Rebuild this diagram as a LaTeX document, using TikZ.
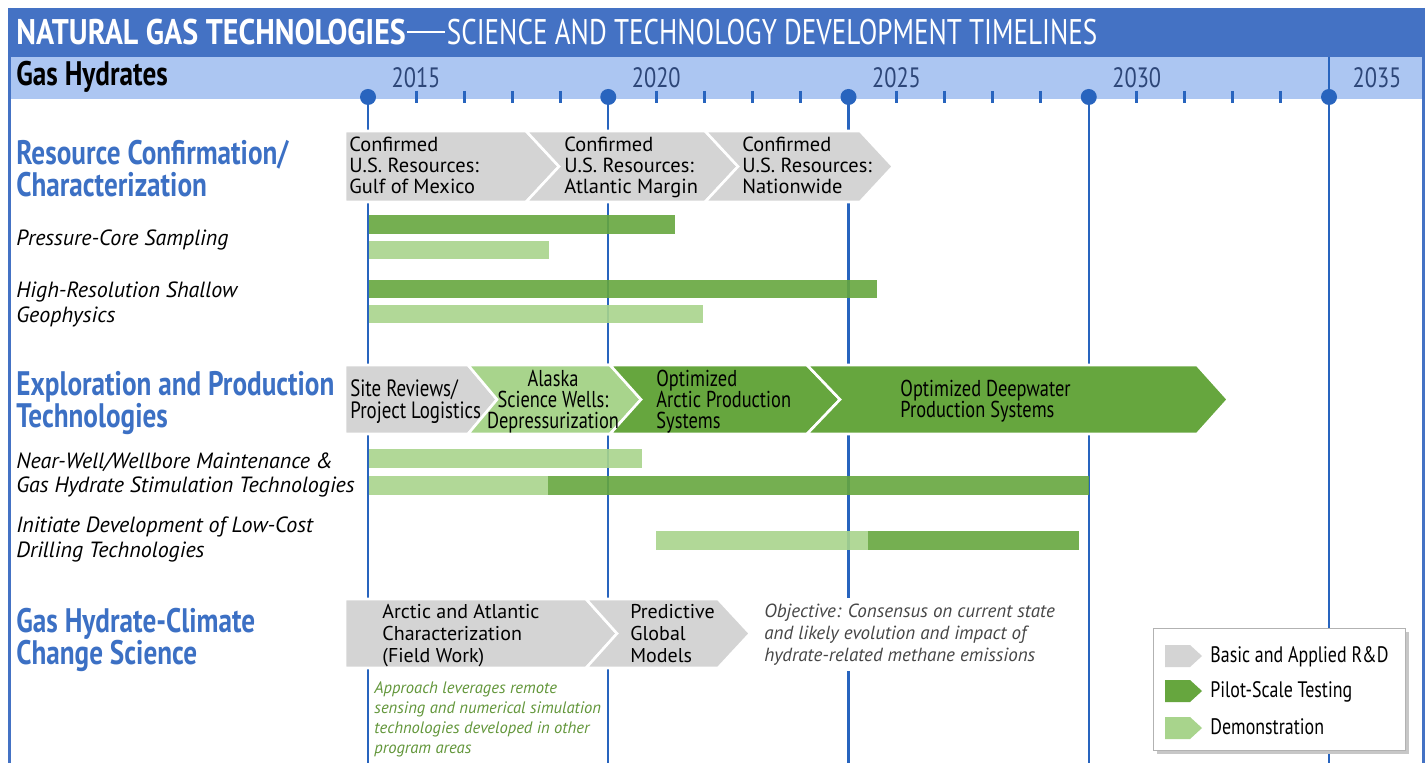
\documentclass[tikz,border=0pt]{standalone}
\usepackage{fontspec}
\setmainfont{PT Sans}
\newfontfamily\condfont[FakeStretch=0.8]{PT Sans}
\newfontfamily\titlefont[FakeStretch=0.763, BoldFeatures={FakeStretch=0.843}]{PT Sans}
\usepackage{tikz}

\definecolor{titleblue}{RGB}{68,114,196}
\definecolor{bandblue}{RGB}{172,198,242}
\definecolor{lineblue}{RGB}{40,100,190}
\definecolor{headblue}{RGB}{60,112,196}
\definecolor{yearblue}{RGB}{45,70,120}
\definecolor{chevgray}{RGB}{212,212,212}
\definecolor{pilotgreen}{RGB}{102,166,62}
\definecolor{demogreen}{RGB}{168,212,140}
\definecolor{notegreen}{RGB}{98,150,58}
\definecolor{notegray}{RGB}{70,70,70}

% multi-line nodes: base anchor sits on the last line
\tikzset{
  heading/.style={anchor=base west, inner sep=0pt, align=left, text=headblue, font=\condfont\bfseries\fontsize{17}{16}\selectfont},
  rowlabel/.style={anchor=base west, inner sep=0pt, align=left, font=\itshape\fontsize{11}{12.5}\selectfont},
  chevtext/.style={anchor=base west, inner sep=0pt, align=left, font=\fontsize{10.2}{10.5}\selectfont},
  condtext/.style={anchor=base west, inner sep=0pt, align=left, font=\condfont\fontsize{11.5}{10.5}\selectfont},
  chevbox/.style={draw=white, line width=1.3pt, line join=miter},
  pilotbar/.style={fill=pilotgreen, fill opacity=0.9},
  demobar/.style={fill=demogreen, fill opacity=0.9},
  yearlabel/.style={font=\condfont\fontsize{14}{14}\selectfont, text=yearblue, inner sep=0pt},
  milestone/.style={draw=lineblue, line width=1.2pt}
}

\begin{document}
\begin{tikzpicture}[x=0.5pt,y=0.5pt,yscale=-1,xscale=1]
\useasboundingbox (0,0) rectangle (1427,763);

%Title bar and year band
\fill [titleblue] (8,8) rectangle (1424,57);
\fill [bandblue] (10,57) rectangle (1422,99);
\draw [titleblue, line width=1.5pt] (9,8) -- (9,763);
\draw [titleblue, line width=1.5pt] (1423,8) -- (1423,763);

% Text Node
\node (title) [anchor=west, inner sep=0pt, text=white, font=\titlefont\fontsize{17.8}{17.8}\selectfont] at (16,32)
  {\textbf{NATURAL GAS TECHNOLOGIES}\hspace{0.5pt}\rule[0.32em]{19pt}{1pt}\hspace{1pt}SCIENCE AND TECHNOLOGY DEVELOPMENT TIMELINES};
% Text Node
\node (hydrates) [anchor=west, inner sep=0pt, font=\condfont\bfseries\fontsize{17}{17}\selectfont] at (16,77) {Gas Hydrates};

%Milestone lines, circles and year ticks
\foreach \k in {0,5,10,15} {
  \draw [milestone] (368+\k*48.05,97) -- (368+\k*48.05,763);
}
\draw [milestone] (1329,57) -- (1329,763);
\foreach \k in {0,5,10,15,20} {
  \fill [lineblue] (368+\k*48.05,97) circle [radius=8];
}
\foreach \k in {1,2,3,4,6,7,8,9,11,12,13,14,16,17,18,19} {
  \draw [lineblue, line width=1.5pt] (368+\k*48.05,91) -- (368+\k*48.05,103);
}
\foreach \yr [count=\i from 0] in {2015,2020,2025,2030,2035} {
  \node (y\yr) [yearlabel] at (416+\i*240.25,78) {\yr};
}

%Row 1: Resource Confirmation
\node (rescon) [heading] at (16,197) {Resource Confirmation/\\Characterization};
\draw [chevbox, fill=chevgray] (345,131) -- (526,131) -- (559,166.5) -- (526,202) -- (345,202) -- cycle;
\draw [chevbox, fill=chevgray] (526,131) -- (705,131) -- (738,166.5) -- (705,202) -- (526,202) -- (559,166.5) -- cycle;
\draw [chevbox, fill=chevgray] (705,131) -- (860,131) -- (893,166.5) -- (860,202) -- (705,202) -- (738,166.5) -- cycle;
\node (gulf) [chevtext] at (349,194) {Confirmed\\U.S. Resources:\\Gulf of Mexico};
\node (atlantic) [chevtext] at (564,194) {Confirmed\\U.S. Resources:\\Atlantic Margin};
\node (nation) [chevtext] at (742,194) {Confirmed\\U.S. Resources:\\Nationwide};

\node (pcore) [rowlabel] at (16,245.5) {Pressure-Core Sampling};
\fill [pilotbar] (369,215) rectangle (675,234);
\fill [demobar] (369,241) rectangle (549,259);
\node (geoph) [rowlabel] at (16,322.5) {High-Resolution Shallow\\Geophysics};
\fill [pilotbar] (369,280) rectangle (877,298);
\fill [demobar] (369,305) rectangle (703,323);

%Row 2: Exploration and Production
\node (explo) [heading] at (16,428) {Exploration and Production\\Technologies};
\draw [chevbox, fill=chevgray] (345,365) -- (468,365) -- (497,399.5) -- (468,434) -- (345,434) -- cycle;
\draw [chevbox, fill=demogreen] (468,365) -- (610,365) -- (641,399.5) -- (610,434) -- (468,434) -- (497,399.5) -- cycle;
\draw [chevbox, fill=pilotgreen] (610,365) -- (807,365) -- (840,399.5) -- (807,434) -- (610,434) -- (641,399.5) -- cycle;
\draw [chevbox, fill=pilotgreen] (807,365) -- (1197,365) -- (1228,399.5) -- (1197,434) -- (807,434) -- (840,399.5) -- cycle;
\node (site) [condtext, font=\condfont\fontsize{11.8}{11}\selectfont] at (350,418.5) {Site Reviews/\\Project Logistics};
\node (alaska) [condtext, align=center, anchor=base] at (553,428.5) {Alaska\\Science Wells:\\Depressurization};
\node (arctic) [condtext] at (656,428.5) {Optimized\\Arctic Production\\Systems};
\node (deep) [condtext] at (900,417.5) {Optimized Deepwater\\Production Systems};

\node (nearwell) [rowlabel, font=\itshape\fontsize{11}{12}\selectfont] at (16,492.5) {Near-Well/Wellbore Maintenance \&\\Gas Hydrate Stimulation Technologies};
\fill [demobar] (369,449) rectangle (642,468);
\fill [demobar] (369,476) rectangle (548,495);
\fill [pilotbar] (548,476) rectangle (1089,495);
\node (drill) [rowlabel] at (16,557.5) {Initiate Development of Low-Cost\\Drilling Technologies};
\fill [demobar] (656,531) rectangle (868,550);
\fill [pilotbar] (868,531) rectangle (1079,550);

%Row 3: Climate Science
\node (climate) [heading] at (16,664) {Gas Hydrate-Climate\\Change Science};
\draw [chevbox, fill=chevgray] (345,599) -- (586,599) -- (617,633.5) -- (586,668) -- (345,668) -- cycle;
\draw [chevbox, fill=chevgray] (586,599) -- (718,599) -- (750,633.5) -- (718,668) -- (586,668) -- (617,633.5) -- cycle;
\node (field) [chevtext, font=\fontsize{10}{10.8}\selectfont] at (382,662) {Arctic and Atlantic\\Characterization\\(Field Work)};
\node (models) [chevtext, font=\fontsize{10}{10.8}\selectfont] at (630,662) {Predictive\\Global\\Models};
\node (objective) [chevtext, fill=white, inner ysep=3pt, text=notegray, font=\itshape\fontsize{9.5}{11}\selectfont] at (764,661.5)
  {Objective: Consensus on current state\\and likely evolution and impact of\\hydrate-related methane emissions};
\node (approach) [chevtext, text=notegreen, font=\itshape\fontsize{8.3}{10}\selectfont] at (374,753)
  {Approach leverages remote\\sensing and numerical simulation\\technologies developed in other\\program areas};

%Legend
\fill [black!22] (1157,632) rectangle (1409,754);
\draw [black!30, fill=white] (1153,628) rectangle (1405,750);
\fill [chevgray] (1165,645) -- (1190,645) -- (1202,656) -- (1190,667) -- (1165,667) -- cycle;
\fill [pilotgreen] (1165,680) -- (1190,680) -- (1202,691) -- (1190,702) -- (1165,702) -- cycle;
\fill [demogreen] (1165,717) -- (1190,717) -- (1202,728) -- (1190,739) -- (1165,739) -- cycle;
\node (lgbasic) [condtext, font=\condfont\fontsize{11.2}{11}\selectfont] at (1210,662) {Basic and Applied R\&D};
\node (lgpilot) [condtext, font=\condfont\fontsize{11.2}{11}\selectfont] at (1210,697) {Pilot-Scale Testing};
\node (lgdemo) [condtext, font=\condfont\fontsize{11.2}{11}\selectfont] at (1210,734) {Demonstration};

\end{tikzpicture}
\end{document}
